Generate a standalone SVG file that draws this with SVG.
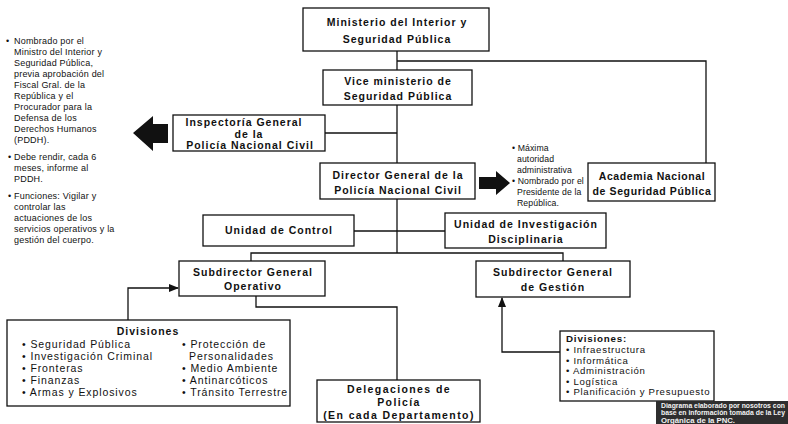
<svg xmlns="http://www.w3.org/2000/svg" width="788" height="424" viewBox="0 0 788 424">
<style>
.box{fill:#fff;stroke:#111;stroke-width:1.3}
.t{font-family:"Liberation Sans",Arial,sans-serif;font-weight:bold;font-size:10.5px;letter-spacing:1px;fill:#111;text-anchor:middle}
.n{font-family:"Liberation Sans",Arial,sans-serif;font-size:9px;letter-spacing:0.2px;fill:#111}
.r{font-family:"Liberation Sans",Arial,sans-serif;font-size:8.7px;letter-spacing:0.1px;fill:#111}
.d{font-family:"Liberation Sans",Arial,sans-serif;font-size:10.5px;letter-spacing:0.9px;fill:#111}
.g{font-family:"Liberation Sans",Arial,sans-serif;font-size:9.6px;letter-spacing:0.7px;fill:#111}
.c{fill:none;stroke:#111;stroke-width:1.3}
.f{font-family:"Liberation Sans",Arial,sans-serif;font-weight:bold;font-size:7px;fill:#f2f2f2}
</style>
<defs>
<marker id="ah" markerWidth="10" markerHeight="8" refX="9" refY="4" orient="auto" markerUnits="userSpaceOnUse">
<path d="M0,0 L10,4 L0,8 Z" fill="#111"/>
</marker>
</defs>
<rect width="788" height="424" fill="#fff"/>
<g id="connectors">
<path class="c" d="M397,51 V70"/>
<path class="c" d="M397,61 H706 V163"/>
<path class="c" d="M397,105 V163"/>
<path class="c" d="M325,133 H397"/>
<path class="c" d="M397,199 V253"/>
<path class="c" d="M354,231 H445"/>
<path class="c" d="M251,261 V253 H563 V261"/>
<path class="c" d="M256,296 V307 H397 V380"/>
<path class="c" d="M128,320 V288 H178" marker-end="url(#ah)"/>
<path class="c" d="M560,352 H502 V298" marker-end="url(#ah)"/>
<polygon points="133,133 153,116 153,124 168,124 168,143 153,143 153,151" fill="#111"/>
<polygon points="510,183 496,171 496,177 479,177 479,189 496,189 496,195" fill="#111"/>
</g>
<g id="ministerio">
<rect class="box" x="303" y="8" width="186" height="43"/>
<text class="t" x="397" y="26">Ministerio del Interior y</text>
<text class="t" x="397" y="43">Seguridad Pública</text>
</g>
<g id="vice">
<rect class="box" x="323" y="70" width="149" height="35"/>
<text class="t" x="398" y="85">Vice ministerio de</text>
<text class="t" x="398" y="100">Seguridad Pública</text>
</g>
<g id="inspectoria">
<rect class="box" x="173" y="115" width="152" height="36"/>
<text class="t" x="244" y="125.5">Inspectoría General</text>
<text class="t" x="249" y="137.5">de la</text>
<text class="t" x="250" y="149">Policía Nacional Civil</text>
</g>
<g id="notas-inspectoria">
<text class="n" x="6" y="44">•</text>
<text class="n" x="14" y="44">Nombrado por el</text>
<text class="n" x="14" y="55">Ministro del Interior y</text>
<text class="n" x="14" y="66">Seguridad Pública,</text>
<text class="n" x="14" y="77">previa aprobación del</text>
<text class="n" x="14" y="88">Fiscal Gral. de la</text>
<text class="n" x="14" y="99">República y el</text>
<text class="n" x="14" y="110">Procurador para la</text>
<text class="n" x="14" y="121">Defensa de los</text>
<text class="n" x="14" y="132">Derechos Humanos</text>
<text class="n" x="14" y="143">(PDDH).</text>
<text class="n" x="8" y="160">•</text>
<text class="n" x="14" y="160">Debe rendir, cada 6</text>
<text class="n" x="14" y="171">meses, informe al</text>
<text class="n" x="14" y="182">PDDH.</text>
<text class="n" x="8" y="199">•</text>
<text class="n" x="14" y="199">Funciones: Vigilar y</text>
<text class="n" x="14" y="210">controlar las</text>
<text class="n" x="14" y="221">actuaciones de los</text>
<text class="n" x="14" y="232">servicios operativos y la</text>
<text class="n" x="14" y="243">gestión del cuerpo.</text>
</g>
<g id="director">
<rect class="box" x="320" y="163" width="155" height="36"/>
<text class="t" x="398" y="178.5">Director General de la</text>
<text class="t" x="398" y="193.5">Policía Nacional Civil</text>
</g>
<g id="academia">
<rect class="box" x="588" y="163" width="127" height="38"/>
<text class="t" x="652" y="179.5" style="letter-spacing:0.6px">Academia Nacional</text>
<text class="t" x="652" y="194.5" style="letter-spacing:0.6px">de Seguridad Pública</text>
</g>
<g id="notas-director">
<text class="r" x="512" y="151">• Máxima</text>
<text class="r" x="517" y="162">autoridad</text>
<text class="r" x="517" y="173">administrativa</text>
<text class="r" x="512" y="184">• Nombrado por el</text>
<text class="r" x="517" y="195">Presidente de la</text>
<text class="r" x="517" y="206">República.</text>
</g>
<g id="unidad-control">
<rect class="box" x="203" y="215" width="151" height="31"/>
<text class="t" x="279" y="234">Unidad de Control</text>
</g>
<g id="unidad-investigacion">
<rect class="box" x="445" y="213" width="161" height="35"/>
<text class="t" x="526" y="227.5">Unidad de Investigación</text>
<text class="t" x="526" y="242.5">Disciplinaria</text>
</g>
<g id="subdirector-operativo">
<rect class="box" x="179" y="261" width="146" height="35"/>
<text class="t" x="253" y="276">Subdirector General</text>
<text class="t" x="253" y="290">Operativo</text>
</g>
<g id="subdirector-gestion">
<rect class="box" x="476" y="261" width="154" height="36"/>
<text class="t" x="553" y="276">Subdirector General</text>
<text class="t" x="553" y="291">de Gestión</text>
</g>
<g id="divisiones-operativo">
<rect class="box" x="7" y="320" width="283" height="86"/>
<text class="t" x="148" y="335">Divisiones</text>
<text class="d" x="22" y="348">• Seguridad Pública</text>
<text class="d" x="22" y="360">• Investigación Criminal</text>
<text class="d" x="22" y="372">• Fronteras</text>
<text class="d" x="22" y="384">• Finanzas</text>
<text class="d" x="22" y="396">• Armas y Explosivos</text>
<text class="d" x="182" y="348">• Protección de</text>
<text class="d" x="189" y="360">Personalidades</text>
<text class="d" x="182" y="372">• Medio Ambiente</text>
<text class="d" x="182" y="384">• Antinarcóticos</text>
<text class="d" x="182" y="396">• Tránsito Terrestre</text>
</g>
<g id="divisiones-gestion">
<rect class="box" x="560" y="331" width="154" height="70"/>
<text class="t" x="566" y="342" style="text-anchor:start;letter-spacing:0.8px;font-size:9.8px">Divisiones:</text>
<text class="g" x="566" y="353">• Infraestructura</text>
<text class="g" x="566" y="363.5">• Informática</text>
<text class="g" x="566" y="374">• Administración</text>
<text class="g" x="566" y="384.5">• Logística</text>
<text class="g" x="566" y="395">• Planificación y Presupuesto</text>
</g>
<g id="delegaciones">
<rect class="box" x="317" y="380" width="163" height="42"/>
<text class="t" x="399" y="393" style="letter-spacing:1.4px">Delegaciones de</text>
<text class="t" x="399" y="406" style="letter-spacing:1.4px">Policía</text>
<text class="t" x="399" y="419" style="letter-spacing:1.4px">(En cada Departamento)</text>
</g>
<g id="nota-fuente">
<rect x="656" y="401" width="132" height="23" fill="#2e2e2e"/>
<text class="f" x="661" y="407.5" textLength="124" lengthAdjust="spacingAndGlyphs">Diagrama elaborado por nosotros con</text>
<text class="f" x="661" y="415" textLength="124" lengthAdjust="spacingAndGlyphs">base en información tomada de la Ley</text>
<text class="f" x="661" y="422.5" textLength="74" lengthAdjust="spacingAndGlyphs">Orgánica de la PNC.</text>
</g>
</svg>
